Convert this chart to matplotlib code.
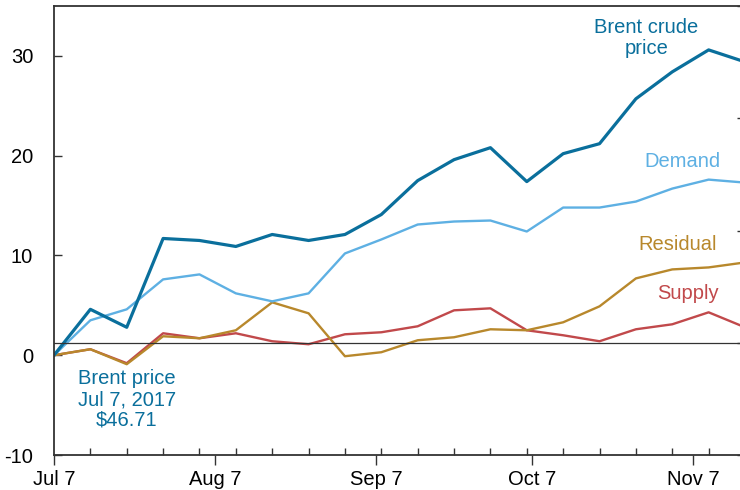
#!/usr/bin/env python3
import datetime as dt
import numpy as np
import matplotlib
matplotlib.use("Agg")
import matplotlib.pyplot as plt
import matplotlib.dates as mdates

plt.rcParams['font.family'] = ['Liberation Sans', 'DejaVu Sans']
plt.rcParams['axes.unicode_minus'] = False

# weekly observations starting Jul 7, 2017 (cumulative % change)
start = dt.date(2017, 7, 7)
dates = [start + dt.timedelta(days=7 * i) for i in range(20)]

brent = [0, 4.6, 2.8, 11.7, 11.5, 10.9, 12.1, 11.5, 12.1, 14.1,
         17.5, 19.6, 20.8, 17.4, 20.2, 21.2, 25.7, 28.4, 30.6, 29.4]
demand = [0, 3.5, 4.6, 7.6, 8.1, 6.2, 5.4, 6.2, 10.2, 11.6,
          13.1, 13.4, 13.5, 12.4, 14.8, 14.8, 15.4, 16.7, 17.6, 17.3]
supply = [0, 0.6, -0.8, 2.2, 1.7, 2.2, 1.4, 1.1, 2.1, 2.3,
          2.9, 4.5, 4.7, 2.5, 2.0, 1.4, 2.6, 3.1, 4.3, 2.8]
residual = [0, 0.6, -0.9, 1.9, 1.7, 2.5, 5.3, 4.2, -0.1, 0.3,
            1.5, 1.8, 2.6, 2.5, 3.3, 4.9, 7.7, 8.6, 8.8, 9.3]

c_brent = '#0a6f9c'
c_demand = '#5eb0e3'
c_supply = '#c1494b'
c_resid = '#b8882c'

fig = plt.figure(figsize=(7.4, 4.9), dpi=100)
ax = fig.add_axes([54 / 740, 35 / 490, 691 / 740, 449 / 490])

ax.plot(dates, supply, color=c_supply, lw=1.7)
ax.plot(dates, residual, color=c_resid, lw=1.7)
ax.plot(dates, demand, color=c_demand, lw=1.7)
ax.plot(dates, brent, color=c_brent, lw=2.3)

ax.set_xlim(dates[0], dates[-1])
ax.set_ylim(-10, 35)
ax.set_yticks([-10, 0, 10, 20, 30])

ax.xaxis.set_major_locator(mdates.MonthLocator(bymonthday=7))
ax.xaxis.set_major_formatter(mdates.DateFormatter('%b %-d'))
ax.xaxis.set_minor_locator(mdates.WeekdayLocator(byweekday=mdates.FR))

for s in ax.spines.values():
    s.set_color('#333333')
    s.set_linewidth(1.3)

ax.tick_params(axis='y', direction='in', length=6, width=1, color='#333333',
               labelsize=14.5, pad=15)
ax.tick_params(axis='x', which='major', direction='out', length=7, width=1,
               color='#333333', labelsize=14.5, pad=4)
ax.tick_params(axis='x', which='minor', direction='in', length=5, width=1,
               color='#333333')

# right-hand scale: only tick marks and its zero line are shown
ax2 = ax.twinx()
ax2.set_ylim(-1, 3)
ax2.set_yticks([-1, 0, 1, 2, 3])
ax2.tick_params(axis='y', direction='in', length=6, width=1, color='#333333',
                labelright=False)
ax2.axhline(0, color='#333333', lw=0.9)
for s in ax2.spines.values():
    s.set_visible(False)

def day(n):
    return start + dt.timedelta(days=n)

ax.text(day(114), 31.8, 'Brent crude\nprice', color=c_brent, fontsize=14.5,
        ha='center', va='center', linespacing=1.12)
ax.text(day(121.3), 19.4, 'Demand', color=c_demand, fontsize=14.5,
        ha='center', va='center')
ax.text(day(120.5), 11.1, 'Residual', color=c_resid, fontsize=14.5,
        ha='center', va='center')
ax.text(day(122.4), 6.2, 'Supply', color=c_supply, fontsize=14.5,
        ha='center', va='center')
ax.text(day(14.8), -4.45, 'Brent price\nJul 7, 2017\n$46.71', color=c_brent,
        fontsize=14.5, ha='center', va='center', linespacing=1.12)

fig.savefig('out.png', dpi=100)
